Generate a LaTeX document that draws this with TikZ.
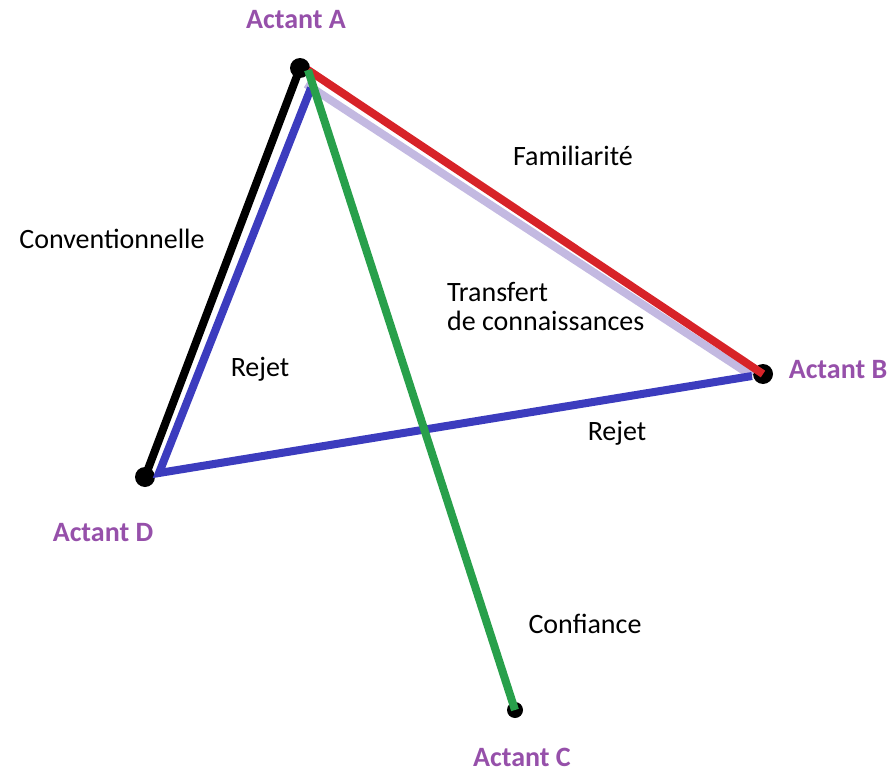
\documentclass[tikz,border=0pt]{standalone}
\usepackage{fontspec}
\setmainfont{Carlito}
\usetikzlibrary{positioning}
\definecolor{actpurple}{RGB}{150,80,170}
\definecolor{rejblue}{RGB}{60,60,190}
\definecolor{famred}{RGB}{215,35,40}
\definecolor{transfer}{RGB}{195,185,225}
\definecolor{confgreen}{RGB}{40,160,75}
\tikzset{
    actant/.style={circle,fill=black,inner sep=0pt,minimum size=10pt},
    actlabel/.style={text=actpurple,font=\fontsize{14}{16}\selectfont\bfseries},
    linklabel/.style={font=\fontsize{14}{14.5}\selectfont},
    link/.style={line width=4pt}
}
\begin{document}
\begin{tikzpicture}[x=0.5pt,y=-0.5pt]
    \useasboundingbox (0,0) rectangle (890,771);
    % Actants
    \node[actant] (A) at (300,68) {};
    \node[actant] (B) at (763,374) {};
    \node[actant, minimum size=8pt] (C) at (515,710) {};
    \node[actant] (D) at (145,477) {};
    \coordinate (A1) at (308,70);
    \coordinate (A2) at (306,84);
    \coordinate (A3) at (311,88);
    \coordinate (B1) at (752,376);
    \coordinate (D1) at (159,473);

    % Links
    \draw[link, black] (A.center) -- (D.center);
    \draw[link, transfer] (A2) -- (B1);
    \draw[link, famred] (A1) -- (B.center);
    \draw[link, rejblue] (A3) -- (D1) -- (B1);
    \draw[link, confgreen] (A1) -- (C.center);

    % Labels
    \node[actlabel] (la) at (296,20) {Actant A};
    \node[actlabel] (lb) at (838,370) {Actant B};
    \node[actlabel] (lc) at (522,757) {Actant C};
    \node[actlabel] (ld) at (103,533) {Actant D};
    \node[linklabel] (fam) at (573,156) {Familiarité};
    \node[linklabel] (conv) at (112,239) {Conventionnelle};
    \node[linklabel, align=left, anchor=west] (trans) at (440,307) {Transfert\\de connaissances};
    \node[linklabel] (rej1) at (260,369) {Rejet};
    \node[linklabel] (rej2) at (617,433) {Rejet};
    \node[linklabel] (conf) at (585,624) {Confiance};
\end{tikzpicture}
\end{document}
